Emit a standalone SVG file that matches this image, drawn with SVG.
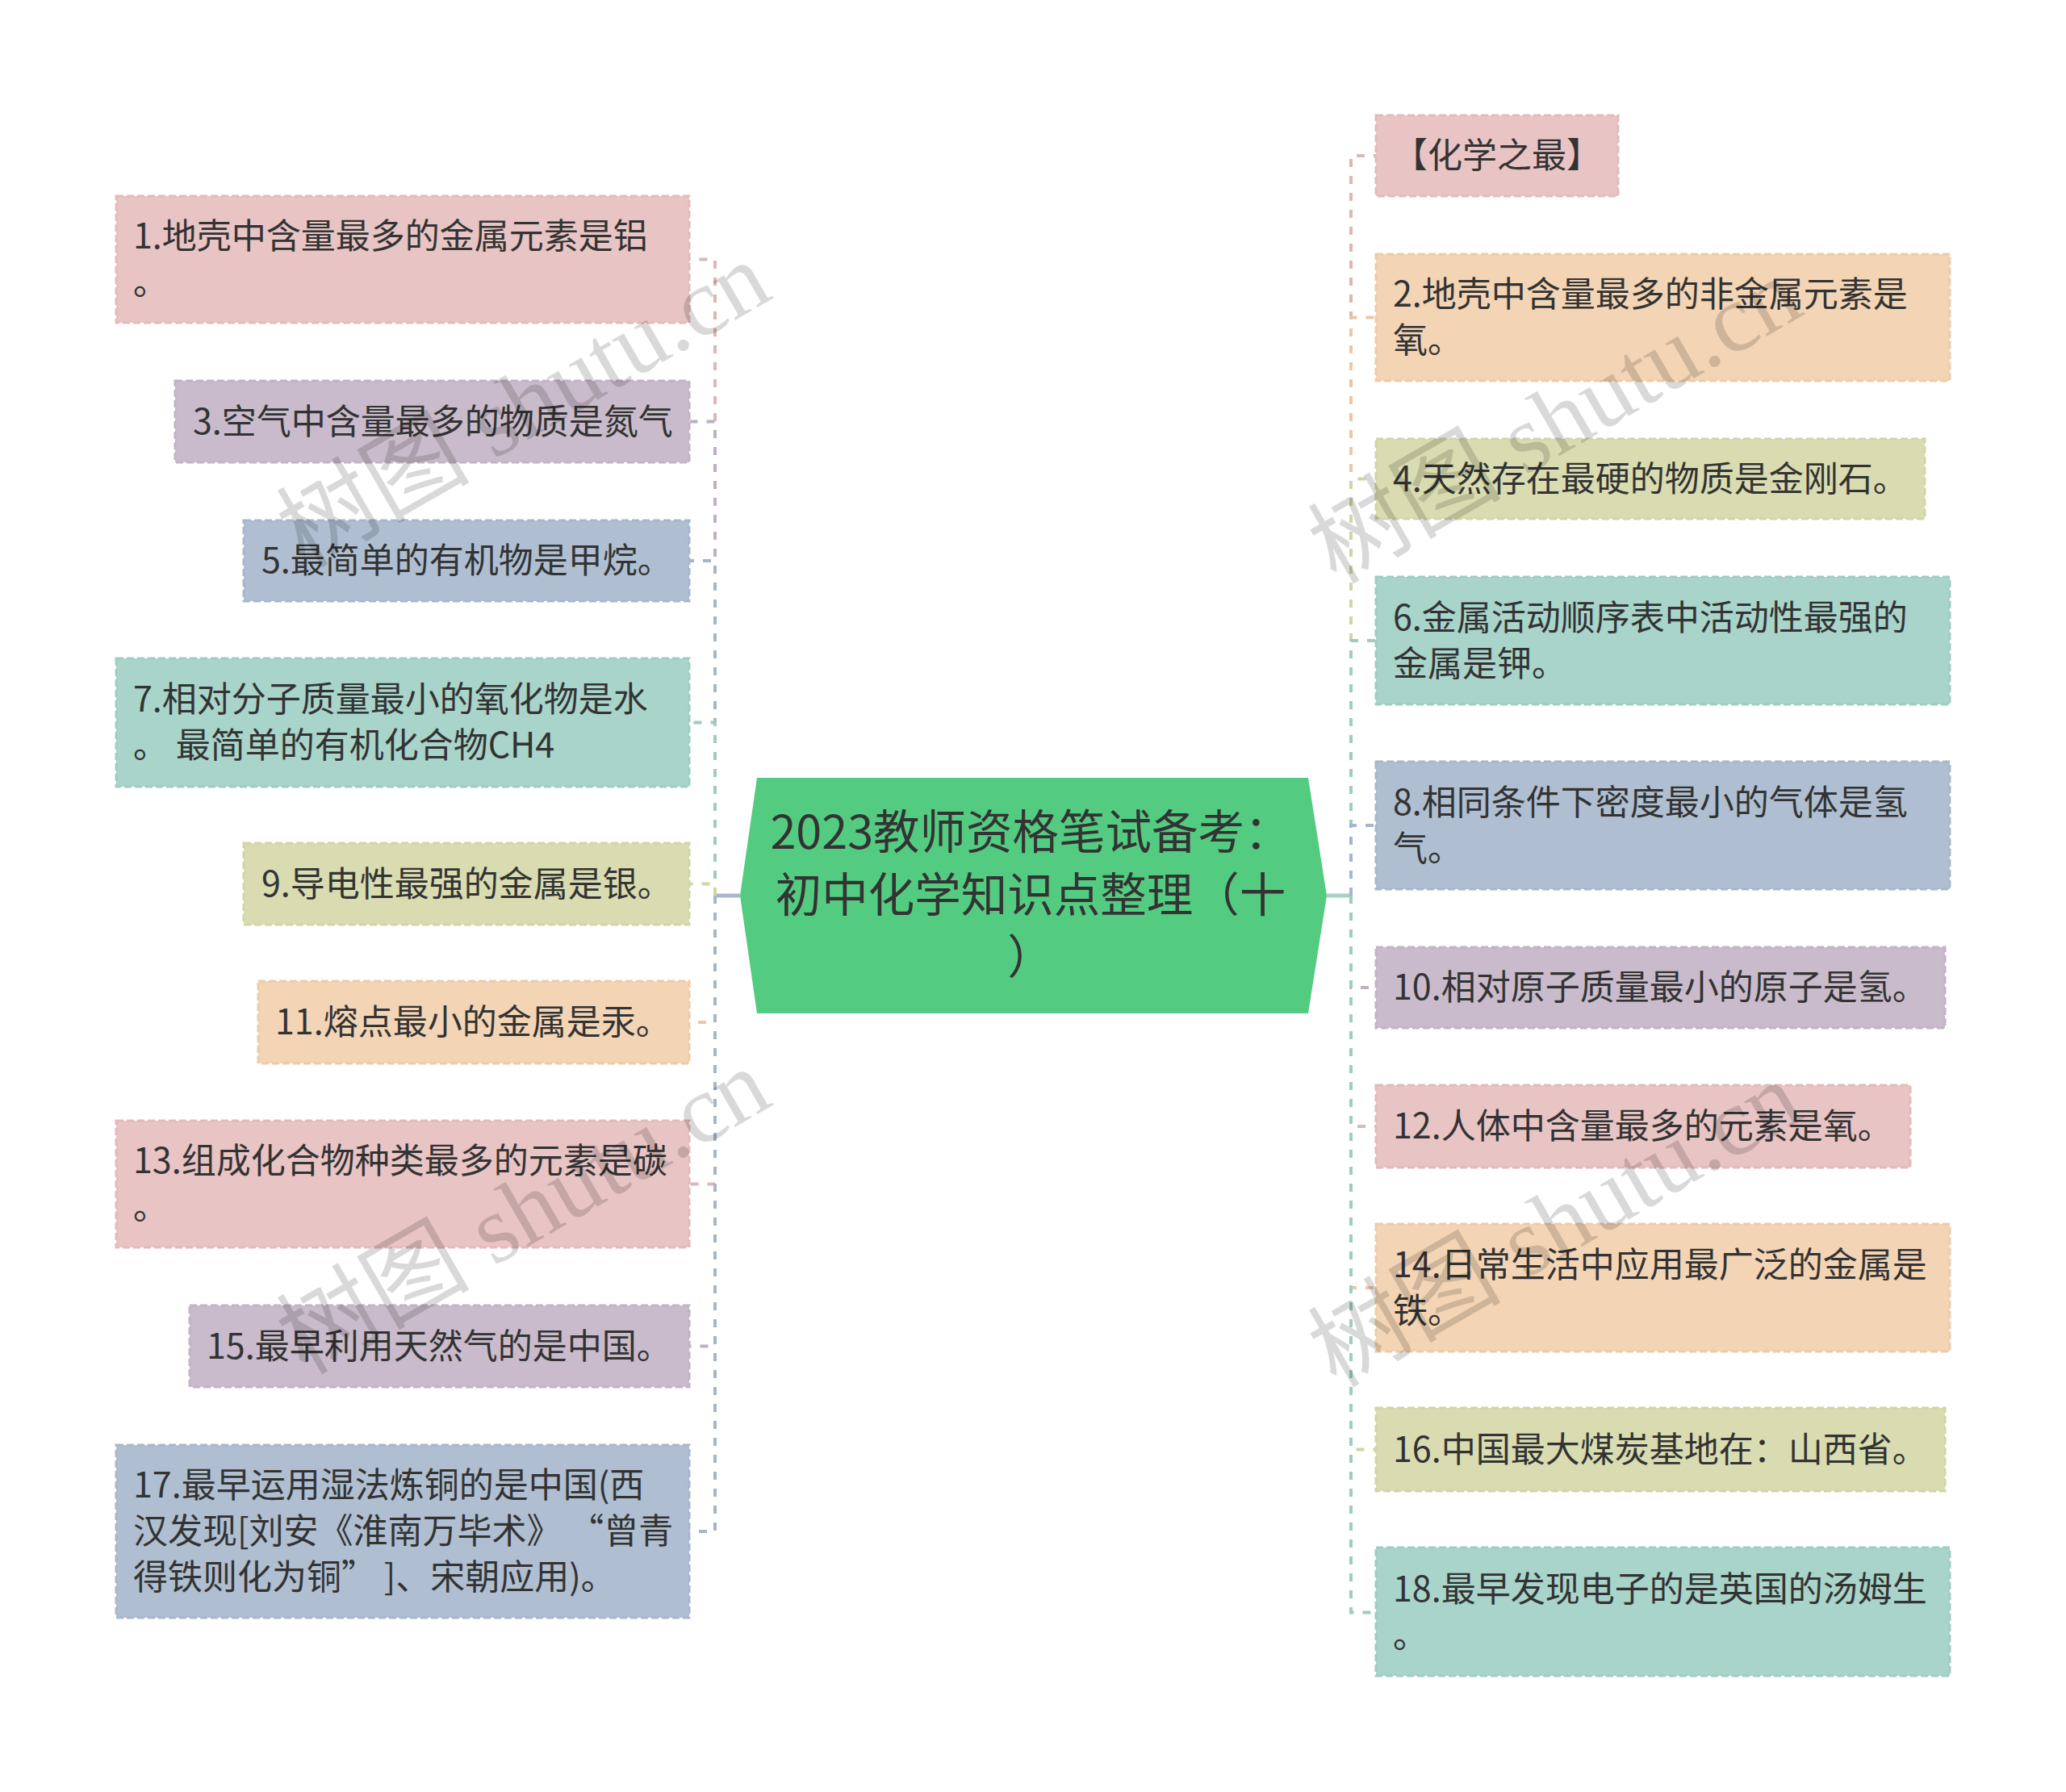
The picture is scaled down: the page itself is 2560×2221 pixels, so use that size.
<svg xmlns="http://www.w3.org/2000/svg" width="2560" height="2221" viewBox="0 0 2560 2221">
<style>
.box{stroke-width:3;stroke-dasharray:9 4}
.pk{fill:#E8C4C4;stroke:#E2BBBB}
.pu{fill:#C9BBCB;stroke:#C2B3C5}
.bl{fill:#AFBFD1;stroke:#A8B8CB}
.te{fill:#A8D4CA;stroke:#A0CDC3}
.ol{fill:#D9DCB0;stroke:#D2D5A7}
.pe{fill:#F3D5B5;stroke:#EDCCAA}
.t{font-family:"Noto Sans CJK SC","Noto Sans",sans-serif;font-size:43px;fill:#333333}
.ct{font-family:"Noto Sans CJK SC","Noto Sans",sans-serif;font-size:57.5px;fill:#333333;text-anchor:middle}
.c{fill:none;stroke-width:4;stroke-dasharray:10 11}
.cpk{stroke:#DDB6B6}.cpu{stroke:#BEB0C4}.cbl{stroke:#A6B5CA}.cte{stroke:#9ECCC2}.col{stroke:#D1D4A4}.cpe{stroke:#EBC8A3}
.wm{font-family:"Liberation Serif","Noto Sans CJK SC",serif;font-size:120px;fill:#000000;fill-opacity:0.15;text-anchor:middle}
</style>
<g id="connectors">
<line x1="917" y1="1110" x2="886" y2="1110" stroke="#AAB8CC" stroke-width="5"/>
<line x1="1644" y1="1110" x2="1674" y2="1110" stroke="#A6D2C8" stroke-width="5"/>
<path class="c cpk" d="M886 1110 V321.5 H854"/>
<path class="c cpu" d="M886 1110 V522.5 H854"/>
<path class="c cbl" d="M886 1110 V695 H854"/>
<path class="c cte" d="M886 1110 V895.5 H854"/>
<path class="c col" d="M886 1110 V1095.5 H854"/>
<path class="c cpe" d="M886 1110 V1267 H854"/>
<path class="c cpk" d="M886 1110 V1467.5 H854"/>
<path class="c cpu" d="M886 1110 V1668.5 H854"/>
<path class="c cbl" d="M886 1110 V1898 H854"/>
<path class="c cpk" d="M1674 1110 V193 H1705"/>
<path class="c cpe" d="M1674 1110 V393.5 H1705"/>
<path class="c col" d="M1674 1110 V593.5 H1705"/>
<path class="c cte" d="M1674 1110 V794 H1705"/>
<path class="c cbl" d="M1674 1110 V1023 H1705"/>
<path class="c cpu" d="M1674 1110 V1224 H1705"/>
<path class="c cpk" d="M1674 1110 V1396 H1705"/>
<path class="c cpe" d="M1674 1110 V1596 H1705"/>
<path class="c col" d="M1674 1110 V1796.5 H1705"/>
<path class="c cte" d="M1674 1110 V1998.5 H1705"/>
</g>
<g id="center">
<polygon points="938,964 1621,964 1644,1110 1621,1256 938,1256 917,1110" fill="#53CB80"/>
<text class="ct"><tspan x="1277" y="1052">2023教师资格笔试备考：</tspan><tspan x="1277" y="1130">初中化学知识点整理（十</tspan><tspan x="1277" y="1207">）</tspan></text>
</g>
<g id="n1"><rect class="box pk" x="144" y="243" width="710" height="157"/><text class="t"><tspan x="165" y="308">1.地壳中含量最多的金属元素是铝</tspan><tspan x="165" y="365">。</tspan></text></g>
<g id="n3"><rect class="box pu" x="217" y="472" width="637" height="101"/><text class="t" x="239" y="537.5">3.空气中含量最多的物质是氮气</text></g>
<g id="n5"><rect class="box bl" x="302" y="645" width="552" height="100"/><text class="t" x="324" y="710">5.最简单的有机物是甲烷。</text></g>
<g id="n7"><rect class="box te" x="144" y="816" width="710" height="159"/><text class="t"><tspan x="165" y="882">7.相对分子质量最小的氧化物是水</tspan><tspan x="165" y="939">。 最简单的有机化合物CH4</tspan></text></g>
<g id="n9"><rect class="box ol" x="302" y="1045" width="552" height="101"/><text class="t" x="324" y="1110.5">9.导电性最强的金属是银。</text></g>
<g id="n11"><rect class="box pe" x="320" y="1216" width="534" height="102"/><text class="t" x="341" y="1282">11.熔点最小的金属是汞。</text></g>
<g id="n13"><rect class="box pk" x="144" y="1389" width="710" height="157"/><text class="t"><tspan x="165" y="1454">13.组成化合物种类最多的元素是碳</tspan><tspan x="165" y="1511">。</tspan></text></g>
<g id="n15"><rect class="box pu" x="235" y="1618" width="619" height="101"/><text class="t" x="256" y="1683.5">15.最早利用天然气的是中国。</text></g>
<g id="n17"><rect class="box bl" x="144" y="1791" width="710" height="214"/><text class="t"><tspan x="165" y="1856">17.最早运用湿法炼铜的是中国(西</tspan><tspan x="165" y="1913">汉发现[刘安《淮南万毕术》 “曾青</tspan><tspan x="165" y="1970">得铁则化为铜” ]、宋朝应用)。</tspan></text></g>
<g id="na"><rect class="box pk" x="1705" y="143" width="300" height="100"/><text class="t" x="1726" y="208">【化学之最】</text></g>
<g id="n2"><rect class="box pe" x="1705" y="315" width="711" height="157"/><text class="t"><tspan x="1726" y="380">2.地壳中含量最多的非金属元素是</tspan><tspan x="1726" y="437">氧。</tspan></text></g>
<g id="n4"><rect class="box ol" x="1705" y="544" width="680" height="99"/><text class="t" x="1726" y="608.5">4.天然存在最硬的物质是金刚石。</text></g>
<g id="n6"><rect class="box te" x="1705" y="715" width="711" height="158"/><text class="t"><tspan x="1726" y="780.5">6.金属活动顺序表中活动性最强的</tspan><tspan x="1726" y="837.5">金属是钾。</tspan></text></g>
<g id="n8"><rect class="box bl" x="1705" y="944" width="711" height="158"/><text class="t"><tspan x="1726" y="1009.5">8.相同条件下密度最小的气体是氢</tspan><tspan x="1726" y="1066.5">气。</tspan></text></g>
<g id="n10"><rect class="box pu" x="1705" y="1174" width="705" height="100"/><text class="t" x="1726" y="1239">10.相对原子质量最小的原子是氢。</text></g>
<g id="n12"><rect class="box pk" x="1705" y="1345" width="662" height="102"/><text class="t" x="1726" y="1411">12.人体中含量最多的元素是氧。</text></g>
<g id="n14"><rect class="box pe" x="1705" y="1517" width="711" height="158"/><text class="t"><tspan x="1726" y="1582.5">14.日常生活中应用最广泛的金属是</tspan><tspan x="1726" y="1639.5">铁。</tspan></text></g>
<g id="n16"><rect class="box ol" x="1705" y="1745" width="705" height="103"/><text class="t" x="1726" y="1811.5">16.中国最大煤炭基地在：山西省。</text></g>
<g id="n18"><rect class="box te" x="1705" y="1918" width="711" height="159"/><text class="t"><tspan x="1726" y="1985">18.最早发现电子的是英国的汤姆生</tspan><tspan x="1726" y="2042">。</tspan></text></g>
<g id="watermarks">
<text class="wm" x="649" y="542" transform="rotate(-30 649 502)">树图 shutu.cn</text>
<text class="wm" x="649" y="1542" transform="rotate(-30 649 1502)">树图 shutu.cn</text>
<text class="wm" x="1927" y="562" transform="rotate(-30 1927 522)">树图 shutu.cn</text>
<text class="wm" x="1927" y="1558" transform="rotate(-30 1927 1518)">树图 shutu.cn</text>
</g>
</svg>
